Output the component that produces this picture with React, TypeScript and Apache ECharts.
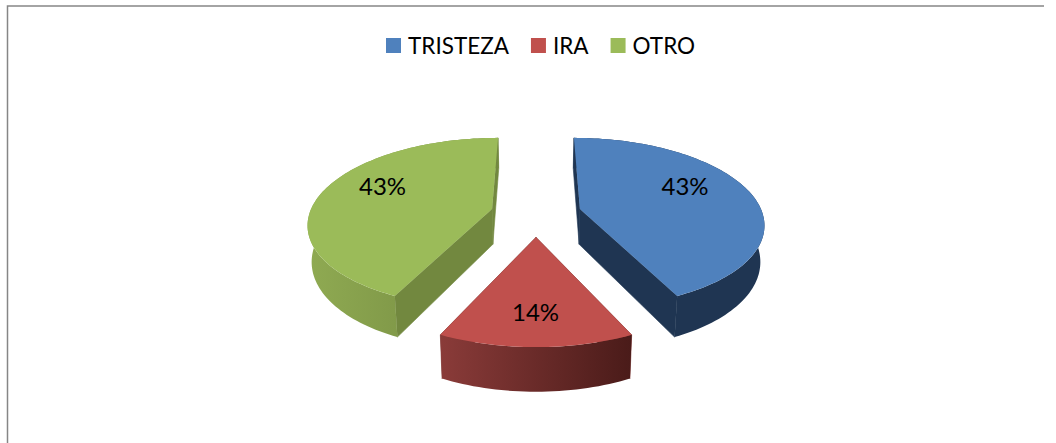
import React, { useEffect, useRef } from "react";
import * as echarts from "echarts";

const categories = ["TRISTEZA", "IRA", "OTRO"];
const values = [43, 14, 43];
const labels = ["43%", "14%", "43%"];

const topColors = ["#4F81BD", "#C0504D", "#9BBB59"];
const wallColors = ["#1F3552", "#7E3533", "#72883F"];
const rimStops = [
  ["#1F3552", "#1F3552"],
  ["#8A3B39", "#4A1B19"],
  ["#8FAA52", "#72883F"],
];
const labelCenters = [[685, 185], [535.5, 311], [382.5, 185]];

const VX = 536, VY = -312, H = 521, D = 1145, R = 181;
const EX = 45, EZ = 48.4, Z0 = 10.5, DEPTH = 35.3, SHRINK = 0.982;

function project(X: number, Z: number) {
  const s = 1 / (1 - (Z + Z0) / D);
  return { x: VX + X * s, y: VY + H * s, s };
}
function lower(p: { x: number; y: number; s: number }) {
  return { x: VX + (p.x - VX) * SHRINK, y: p.y + DEPTH * p.s, s: p.s };
}
const pt = (p: { x: number; y: number }) => [p.x, p.y];

function renderSlice(index: number) {
  const total = values.reduce((a, b) => a + b, 0);
  const before = values.slice(0, index).reduce((a, b) => a + b, 0);
  const a0 = (before / total) * Math.PI * 2;
  const a1 = ((before + values[index]) / total) * Math.PI * 2;
  const mid = (a0 + a1) / 2;
  const ox = EX * Math.sin(mid);
  const oz = -EZ * Math.cos(mid);
  const apex = project(ox, oz);
  const arc: { x: number; y: number; s: number }[] = [];
  const steps = Math.ceil((a1 - a0) / (Math.PI / 120));
  for (let i = 0; i <= steps; i++) {
    const t = a0 + ((a1 - a0) * i) / steps;
    arc.push(project(ox + R * Math.sin(t), oz - R * Math.cos(t)));
  }
  const first = arc[0];
  const last = arc[arc.length - 1];
  const wall = (a: typeof apex, b: typeof apex) => ({
    type: "polygon",
    silent: true,
    shape: { points: [pt(a), pt(b), pt(lower(b)), pt(lower(a))] },
    style: { fill: wallColors[index], stroke: wallColors[index], lineWidth: 0.6 },
  });
  const rim = {
    type: "polygon",
    silent: true,
    shape: { points: [...arc.map(pt), ...arc.slice().reverse().map((p) => pt(lower(p)))] },
    style: {
      fill: new echarts.graphic.LinearGradient(0, 0, 1, 0, [
        { offset: 0, color: rimStops[index][0] },
        { offset: 1, color: rimStops[index][1] },
      ]),
    },
  };
  const top = {
    type: "polygon",
    silent: true,
    shape: { points: [pt(apex), ...arc.map(pt)] },
    style: { fill: topColors[index] },
  };
  const text = {
    type: "text",
    silent: true,
    x: labelCenters[index][0],
    y: labelCenters[index][1],
    style: {
      text: labels[index],
      fill: "#000000",
      font: "24px Lato",
      align: "center",
      verticalAlign: "middle",
    },
  };
  return { type: "group", children: [wall(apex, first), wall(apex, last), rim, top, text] };
}

export default function App() {
  const ref = useRef<HTMLDivElement>(null);
  useEffect(() => {
    const chart = echarts.init(ref.current!, null, { renderer: "svg" });
    chart.setOption({
      animation: false,
      backgroundColor: "#ffffff",
      legend: {
        data: categories,
        left: 386,
        top: 34,
        padding: 0,
        icon: "rect",
        itemWidth: 15,
        itemHeight: 15,
        itemGap: 22,
        selectedMode: false,
        textStyle: { color: "#000000", fontFamily: "Lato", fontSize: 22.5, padding: [0, 0, 0, 2] },
      },
      graphic: [
        {
          type: "polyline",
          silent: true,
          shape: { points: [[7.5, 443], [7.5, 6], [1044, 6]] },
          style: { stroke: "#868686", lineWidth: 1.5, fill: "none" },
        },
      ],
      series: categories.map((name, i) => ({
        type: "custom",
        name,
        coordinateSystem: "none",
        silent: true,
        itemStyle: { color: topColors[i] },
        data: [[values[i]]],
        renderItem: () => renderSlice(i),
      })),
    });
    return () => chart.dispose();
  }, []);
  return <div ref={ref} style={{ position: "fixed", left: 0, top: 0, width: 1056, height: 443 }} />;
}
